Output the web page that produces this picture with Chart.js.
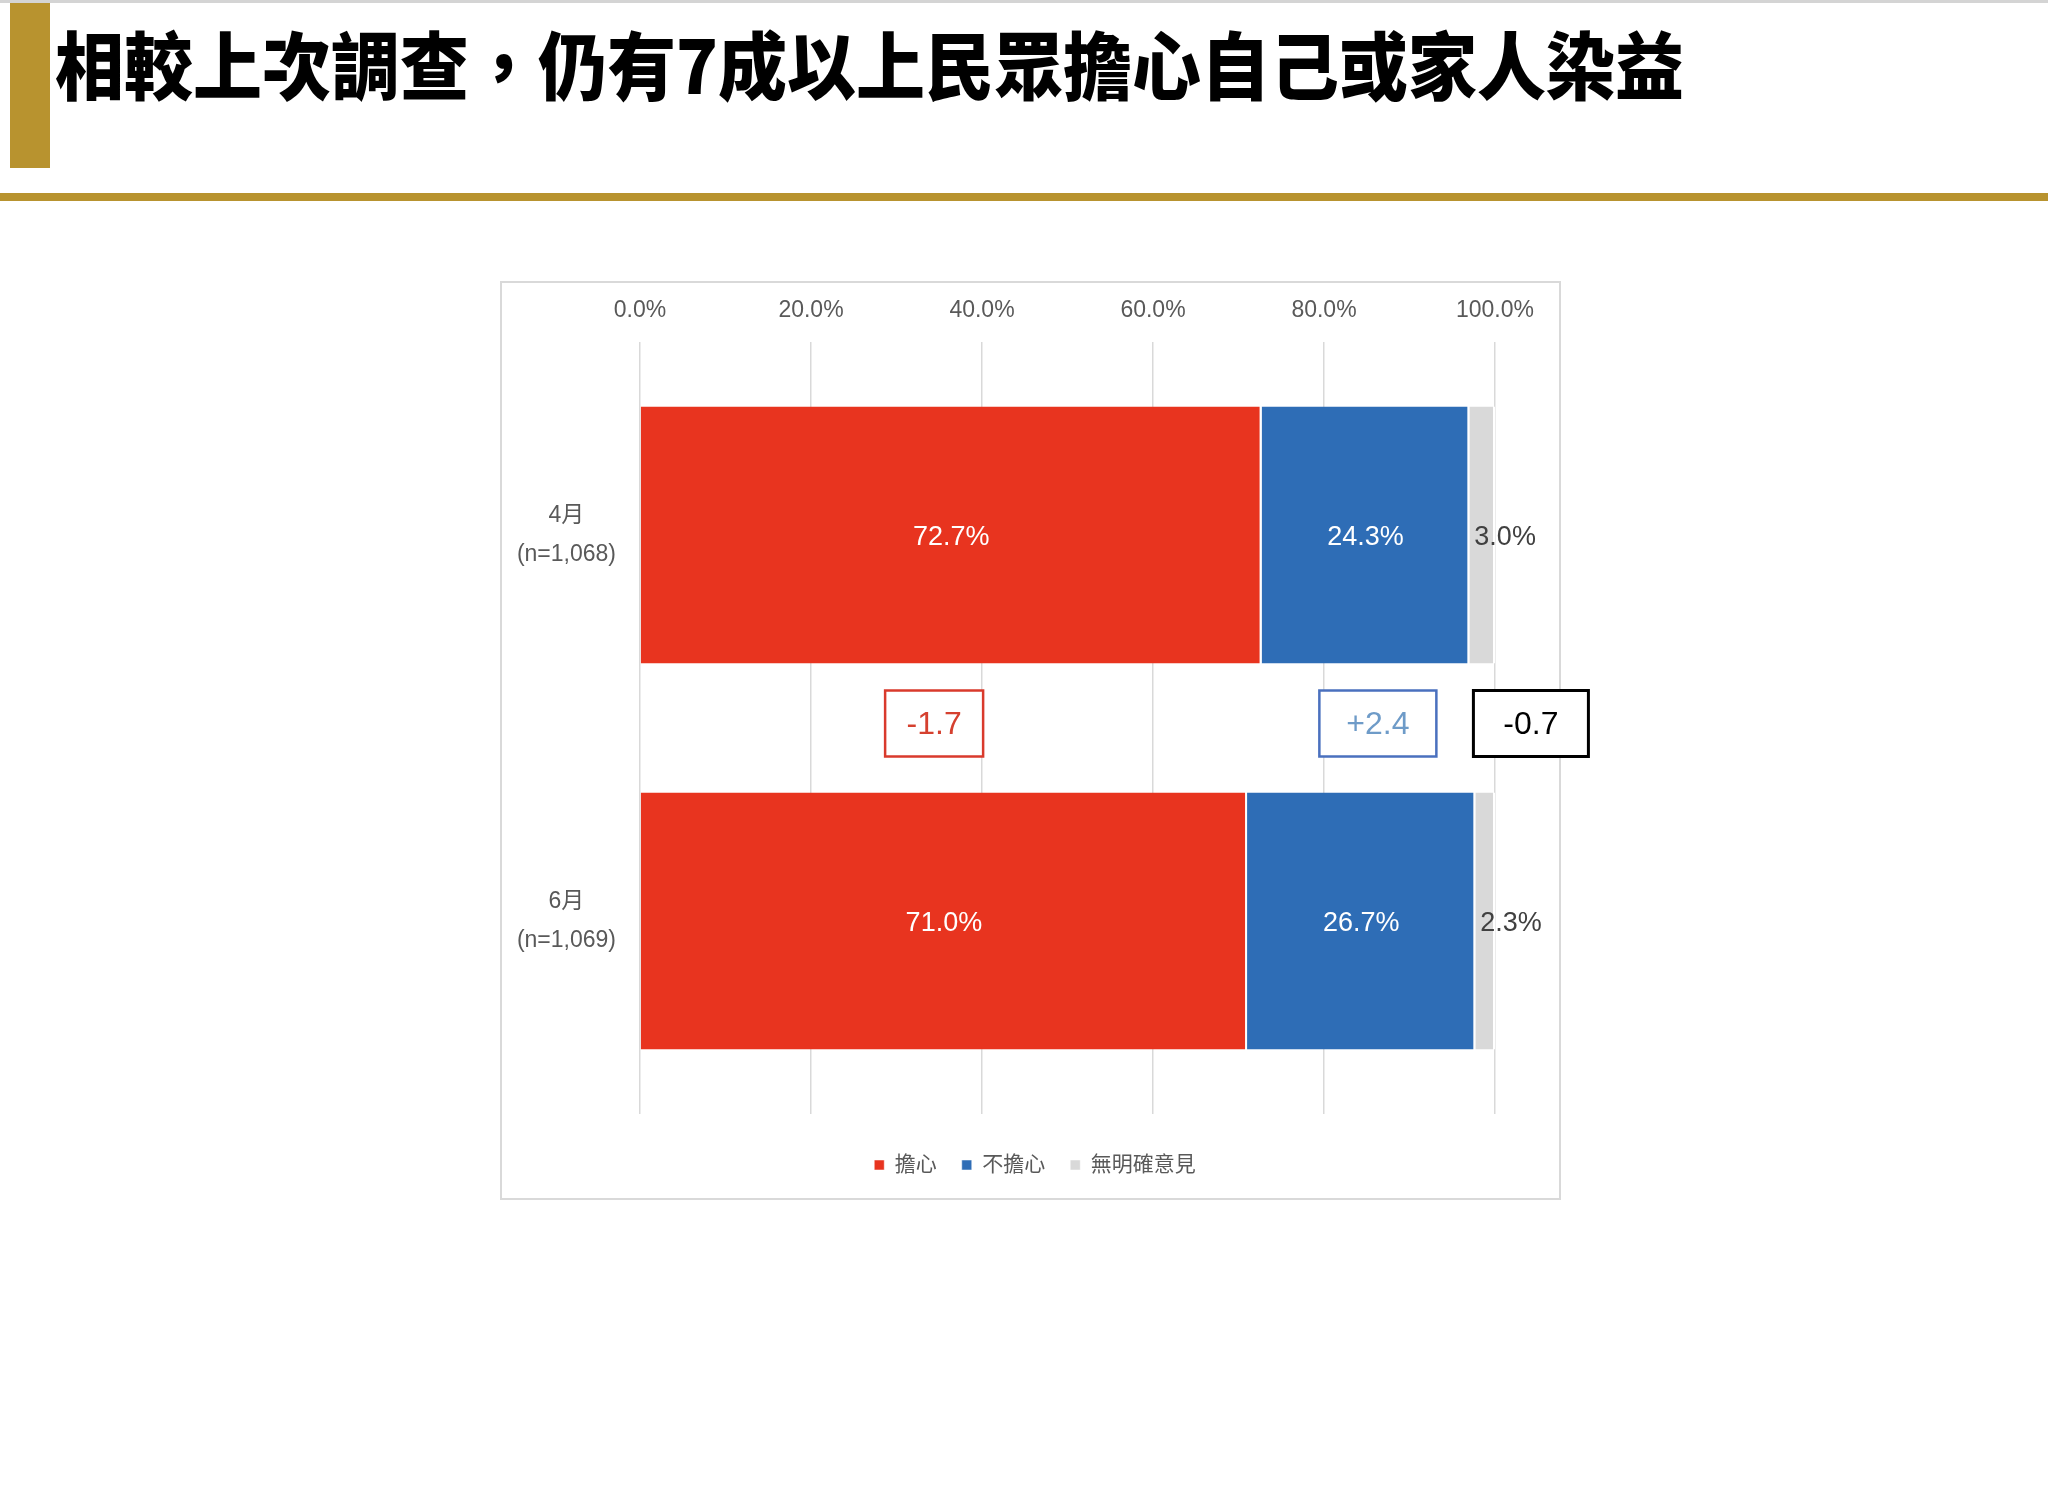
<!DOCTYPE html>
<html><head><meta charset="utf-8">
<script src="https://cdn.jsdelivr.net/npm/chart.js@4.4.0/dist/chart.umd.min.js"></script>
<style>
html,body{margin:0;padding:0;background:#fff;width:2048px;height:1504px;overflow:hidden;position:relative}
#topline{position:absolute;left:0;top:0;width:2048px;height:3px;background:#d4d4d4}
#goldbar{position:absolute;left:10px;top:3px;width:40px;height:165px;background:#B8932F}
#goldline{position:absolute;left:0;top:193px;width:2048px;height:8px;background:#B8932F}
#title{position:absolute;left:55px;top:26px;font-family:'Noto Sans CJK TC';font-weight:900;font-size:69px;line-height:1;color:#000;white-space:nowrap;transform:scaleY(1.07);transform-origin:0 0}
#frame{position:absolute;left:500px;top:281px;width:1061px;height:919px;box-sizing:border-box;border:2px solid #d9d9d9}
#wrap{position:absolute;left:0;top:0;width:2048px;height:1504px}
</style></head>
<body>
<div id="topline"></div>
<div id="goldbar"></div>
<div id="goldline"></div>
<div id="title">相較上次調查，仍有7成以上民眾擔心自己或家人染益</div>
<div id="frame"></div>
<div id="wrap"><canvas id="c" width="2048" height="1504"></canvas></div>
<script>
const categories = [['4月', '(n=1,068)'], ['6月', '(n=1,069)']];
const seriesNames = ['擔心', '不擔心', '無明確意見'];
const worried = [72.7, 71.0];
const notWorried = [24.3, 26.7];
const noOpinion = [3.0, 2.3];
const xTickValues = [0, 20, 40, 60, 80, 100];
const diffs = [
  worried[1] - worried[0],
  notWorried[1] - notWorried[0],
  noOpinion[1] - noOpinion[0]
];

const FONT = "'Liberation Sans', 'Noto Sans CJK TC', sans-serif";
const colors = ['#E8341F', '#2E6DB6', '#D9D9D9'];

const barLabels = {
  id: 'barLabels',
  afterDatasetsDraw(chart) {
    const ctx = chart.ctx;
    chart.data.datasets.forEach((ds, di) => {
      const meta = chart.getDatasetMeta(di);
      meta.data.forEach((bar, i) => {
        const txt = ds.data[i].toFixed(1) + '%';
        ctx.save();
        ctx.font = '27px ' + FONT;
        ctx.textBaseline = 'middle';
        if (di < 2) {
          ctx.fillStyle = '#ffffff';
          ctx.textAlign = 'center';
          ctx.fillText(txt, (bar.x + bar.base) / 2, bar.y + 3);
        } else {
          ctx.fillStyle = '#404040';
          ctx.textAlign = 'left';
          ctx.fillText(txt, bar.base + 5, bar.y + 3);
        }
        ctx.restore();
      });
    });
  }
};

const diffBoxes = {
  id: 'diffBoxes',
  afterDraw(chart, args, opts) {
    const ctx = chart.ctx;
    const xs = chart.scales.x;
    const m0 = chart.getDatasetMeta(0);
    const yMid = (m0.data[0].y + m0.data[1].y) / 2 + opts.dy;
    diffs.forEach((d, i) => {
      const st = opts.styles[i];
      const cx = xs.getPixelForValue(opts.at[i]);
      const txt = (d > 0 ? '+' : '') + d.toFixed(1);
      ctx.save();
      ctx.fillStyle = '#ffffff';
      ctx.fillRect(cx - st.w / 2, yMid - opts.h / 2, st.w, opts.h);
      ctx.lineWidth = st.lw;
      ctx.strokeStyle = st.border;
      ctx.strokeRect(cx - st.w / 2, yMid - opts.h / 2, st.w, opts.h);
      ctx.fillStyle = st.text;
      ctx.font = '32px ' + FONT;
      ctx.textAlign = 'center';
      ctx.textBaseline = 'middle';
      ctx.fillText(txt, cx, yMid + 2);
      ctx.restore();
    });
  }
};

const hidden = {
  grid: { display: false, drawTicks: false },
  ticks: { display: false },
  border: { display: false }
};

new Chart(document.getElementById('c'), {
  type: 'bar',
  data: {
    labels: categories,
    datasets: [
      { label: seriesNames[0], data: worried, backgroundColor: colors[0] },
      { label: seriesNames[1], data: notWorried, backgroundColor: colors[1] },
      { label: seriesNames[2], data: noOpinion, backgroundColor: colors[2] }
    ].map(d => Object.assign(d, {
      borderColor: '#ffffff',
      borderWidth: { left: 0, top: 0, bottom: 0, right: 2 },
      borderSkipped: false,
      categoryPercentage: 1,
      barPercentage: 0.666
    }))
  },
  options: {
    indexAxis: 'y',
    responsive: false,
    animation: false,
    devicePixelRatio: 1,
    layout: { padding: { left: 500, top: 281, right: 478, bottom: 318.5 } },
    scales: {
      x: {
        type: 'linear', position: 'top', stacked: true, min: 0, max: 100,
        afterBuildTicks: s => { s.ticks = xTickValues.map(v => ({ value: v })); },
        ticks: {
          callback: v => Number(v).toFixed(1) + '%',
          font: { family: FONT, size: 23 }, color: '#595959', padding: 18
        },
        grid: { color: '#d9d9d9', lineWidth: 1.5, drawTicks: false },
        border: { display: false },
        afterFit: s => { s.height = 61; }
      },
      y: {
        type: 'category', stacked: true,
        ticks: {
          font: { family: FONT, size: 23, lineHeight: 1.7 }, color: '#595959',
          padding: 24, crossAlign: 'center'
        },
        grid: { display: false, drawTicks: false },
        border: { display: false },
        afterFit: s => { s.width = 140; }
      },
      xb: Object.assign({ type: 'linear', position: 'bottom', display: true,
        afterFit: s => { s.height = 15.5; } }, hidden),
      yr: Object.assign({ type: 'linear', position: 'right', display: true,
        afterFit: s => { s.width = 75; } }, hidden)
    },
    plugins: {
      legend: {
        position: 'bottom',
        labels: {
          font: { family: FONT, size: 21 }, color: '#595959',
          boxWidth: 10, boxHeight: 10, padding: 25
        }
      },
      tooltip: { enabled: false },
      diffBoxes: {
        at: [34.4, 86.3, 104.2],
        dy: -4.5,
        h: 66,
        styles: [
          { border: '#D93A2C', text: '#D5402F', w: 98, lw: 2.5 },
          { border: '#4A70BE', text: '#6E9BC8', w: 117, lw: 2.5 },
          { border: '#000000', text: '#000000', w: 115, lw: 3 }
        ]
      }
    }
  },
  plugins: [barLabels, diffBoxes]
});
</script>
</body></html>
